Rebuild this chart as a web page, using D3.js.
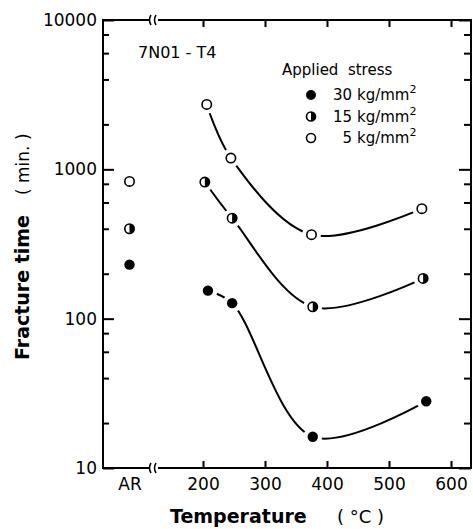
<!DOCTYPE html>
<html><head><meta charset="utf-8">
<script src="https://cdn.jsdelivr.net/npm/d3@7"></script>
<style>
body{margin:0;background:#fff;}
svg{display:block;font-family:"DejaVu Sans",sans-serif;}
</style></head>
<body><svg id="c" width="473" height="529"></svg>
<script>
// ---- data ----
const categories = ["AR"];
const xTicks = [200, 300, 400, 500, 600];
const yMajor = [10, 100, 1000, 10000];
const yMinorMult = [2, 4, 6, 8];
const stressLabels = ["30", "15", "5"];
const arTimes = [230, 400, 830];           // AR value for 30, 15, 5 kg/mm2
const temp30 = [208, 247, 377, 560];
const time30 = [154, 127, 16.2, 28];
const temp15 = [203, 247, 377, 555];
const time15 = [822, 471, 120, 186];
const temp5  = [206, 245, 375, 553];
const time5  = [2720, 1190, 365, 545];

const svg = d3.select("#c");
const L = 103, R = 471, T = 20, B = 468, BRK = 153;

const x = d3.scaleLinear().domain([200, 600]).range([203, 451]);
const xc = d3.scalePoint().domain(categories).range([L, BRK + 3]).padding(0.5);
const y = d3.scaleLog().domain([10, 10000]).range([B, T]);

const minor = [];
yMajor.slice(0, 3).forEach(d => yMinorMult.forEach(m => minor.push(d * m)));

const stroke = "#000";
// axes lines with break
const g = svg.append("g").attr("stroke", stroke).attr("stroke-width", 2).attr("fill", "none");
g.append("line").attr("x1", L).attr("x2", L).attr("y1", T - 1).attr("y2", B + 1);
g.append("line").attr("x1", R).attr("x2", R).attr("y1", T - 1).attr("y2", B + 1);
[T, B].forEach(yy => {
  g.append("line").attr("x1", L).attr("x2", BRK - 4).attr("y1", yy).attr("y2", yy);
  g.append("line").attr("x1", BRK + 5).attr("x2", R).attr("y1", yy).attr("y2", yy);
  [BRK - 3, BRK + 2].forEach(bx => {
    g.append("path").attr("stroke-width", 1.5)
      .attr("d", `M${bx + 1},${yy - 5} Q${bx - 2},${yy} ${bx + 1},${yy + 5}`);
  });
});

function styleAxis(sel) {
  sel.select(".domain").remove();
  sel.selectAll(".tick line").attr("stroke", stroke).attr("stroke-width", 2);
  sel.selectAll("text").attr("fill", "#000").style("font-size", "17px")
     .style("font-family", "DejaVu Sans, sans-serif");
}

// left axis
svg.append("g").attr("transform", `translate(${L},0)`)
  .call(d3.axisLeft(y).tickValues(yMajor).tickFormat(d3.format("d")).tickSizeInner(-11).tickSizeOuter(0).tickPadding(6))
  .call(styleAxis);
svg.append("g").attr("transform", `translate(${L},0)`)
  .call(d3.axisLeft(y).tickValues(minor).tickFormat("").tickSizeInner(-6).tickSizeOuter(0))
  .call(styleAxis);
// right axis
svg.append("g").attr("transform", `translate(${R},0)`)
  .call(d3.axisRight(y).tickValues(yMajor).tickFormat("").tickSizeInner(-12).tickSizeOuter(0))
  .call(styleAxis);
svg.append("g").attr("transform", `translate(${R},0)`)
  .call(d3.axisRight(y).tickValues(minor).tickFormat("").tickSizeInner(-7).tickSizeOuter(0))
  .call(styleAxis);
// bottom axis
svg.append("g").attr("transform", `translate(0,${B})`)
  .call(d3.axisBottom(x).tickValues(xTicks).tickFormat(d3.format("d")).tickSizeInner(-7).tickSizeOuter(0).tickPadding(10))
  .call(styleAxis);
svg.append("g").attr("transform", `translate(0,${B})`)
  .call(d3.axisBottom(xc).tickSize(0).tickPadding(10))
  .call(styleAxis);
// top axis
svg.append("g").attr("transform", `translate(0,${T})`)
  .call(d3.axisTop(x).tickValues(xTicks).tickFormat("").tickSizeInner(-7).tickSizeOuter(0))
  .call(styleAxis);

// curves
const series = [
  {t: temp30, v: time30, type: "full"},
  {t: temp15, v: time15, type: "half"},
  {t: temp5,  v: time5,  type: "open"}
];
const line = d3.line().x(d => x(d[0])).y(d => y(d[1])).curve(d3.curveCatmullRom.alpha(0.5));
series.forEach(s => {
  const pts = s.t.map((t, i) => [t, s.v[i]]);
  svg.append("path").datum(pts).attr("d", line)
    .attr("fill", "none").attr("stroke", "#000").attr("stroke-width", 2);
});

// markers
function marker(sel, type, r) {
  if (type === "full") {
    sel.append("circle").attr("r", r + 0.5).attr("fill", "#000");
  } else if (type === "open") {
    sel.append("circle").attr("r", r).attr("fill", "#fff").attr("stroke", "#000").attr("stroke-width", 1.6);
  } else {
    sel.append("circle").attr("r", r).attr("fill", "#fff").attr("stroke", "#000").attr("stroke-width", 1.6);
    sel.append("path").attr("d", `M0,${-r} A${r},${r} 0 0 1 0,${r} Z`).attr("fill", "#000");
  }
}
const mg = svg.append("g");
series.forEach((s, si) => {
  const pts = s.t.map((t, i) => [x(t), y(s.v[i])]);
  pts.push([xc("AR"), y(arTimes[si])]);
  pts.forEach(p => {
    const gg = mg.append("g").attr("transform", `translate(${p[0]},${p[1]})`);
    gg.append("circle").attr("r", 9.5).attr("fill", "#fff");
    marker(gg, s.type, 4.7);
  });
});

// annotation
svg.append("text").attr("x", 138).attr("y", 58).style("font-size", "16px").text("7N01 - T4");

// legend
const lg = svg.append("g");
lg.append("text").attr("x", 282).attr("y", 75).style("font-size", "15px").style("white-space", "pre").text("Applied  stress");
series.forEach((s, i) => {
  const yy = 95 + i * 21.5;
  const gg = lg.append("g").attr("transform", `translate(311,${yy})`);
  marker(gg, s.type, 4.5);
  lg.append("text").attr("x", 352).attr("y", yy + 5).attr("text-anchor", "end").style("font-size", "15px").text(stressLabels[i]);
  const t = lg.append("text").attr("x", 357).attr("y", yy + 5).style("font-size", "15px");
  t.append("tspan").text("kg/mm");
  t.append("tspan").attr("dy", -7).style("font-size", "11px").text("2");
});

// axis titles
svg.append("text").attr("x", 170).attr("y", 523).style("font-size", "19px").style("font-weight", "bold").text("Temperature");
svg.append("text").attr("x", 337).attr("y", 523).style("font-size", "18px").style("white-space", "pre").text("( °C )");
const yt = svg.append("text").attr("transform", "translate(29,360) rotate(-90)");
yt.append("tspan").style("font-size", "19px").style("font-weight", "bold").text("Fracture  time");
yt.append("tspan").attr("dx", 20).style("font-size", "17px").style("white-space", "pre").text("( min. )");
</script></body></html>
